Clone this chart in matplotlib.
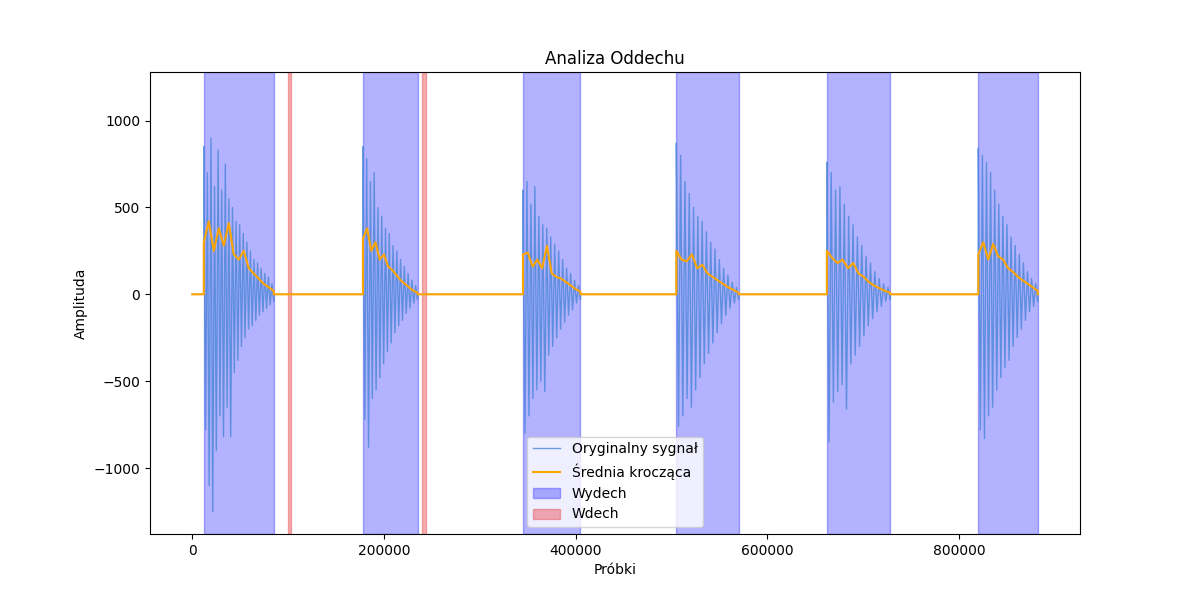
import numpy as np
import matplotlib.pyplot as plt

# zakresy wydechu / wdechu (probki)
wydech_start = [12000, 178000, 345000, 505000, 662000, 820000]
wydech_end = [85000, 235000, 405000, 570000, 728000, 882000]
wdech_start = [100000, 240000]
wdech_end = [103000, 244000]

# amplitudy sygnalu (po kolei w kazdym wydechu)
sig_1 = [850, -780, 700, -1100, 900, -1250, 620, -900, 830, -700, 600, -820, 750, -650, 550, -820, 500, -450, 420, -380,
         400, -300, 350, -250, 300, -200, 250, -180, 200, -150, 180, -120, 150, -100, 120, -80, 100, -60, 60, -40]
sig_2 = [850, -720, 780, -880, 650, -600, 700, -550, 500, -480, 450, -400, 380, -330, 350, -280, 280, -220, 250, -180,
         200, -150, 160, -110, 120, -80, 80, -50, 50, -30]
sig_3 = [600, -800, 650, -700, 520, -600, 620, -550, 450, -500, 400, -560, 380, -350, 330, -300, 290, -250, 250, -200,
         200, -160, 150, -120, 120, -90, 80, -50, 50, -30]
sig_4 = [870, -760, 800, -700, 650, -600, 580, -650, 500, -550, 450, -480, 420, -400, 360, -340, 300, -280, 260, -220,
         200, -170, 150, -120, 110, -80, 70, -50, 40, -30]
sig_5 = [760, -850, 700, -620, 600, -560, 620, -520, 520, -660, 450, -400, 400, -350, 330, -300, 280, -240, 220, -180,
         180, -140, 130, -100, 90, -70, 60, -40, 40, -30]
sig_6 = [840, -780, 800, -830, 760, -700, 700, -650, 600, -550, 520, -480, 450, -420, 400, -380, 330, -300, 280, -250,
         230, -200, 180, -150, 130, -100, 90, -70, 60, -40]
sygnaly = [sig_1, sig_2, sig_3, sig_4, sig_5, sig_6]

# srednia kroczaca
avg_1 = [300, 420, 250, 380, 280, 410, 230, 200, 250, 150, 120, 90, 60, 40, 20]
avg_2 = [320, 380, 250, 300, 200, 230, 160, 140, 110, 80, 60, 40, 20, 10]
avg_3 = [230, 240, 160, 200, 150, 280, 120, 100, 90, 70, 50, 30, 15]
avg_4 = [250, 200, 190, 230, 150, 170, 120, 100, 80, 60, 40, 25, 10]
avg_5 = [250, 210, 180, 200, 150, 180, 120, 100, 70, 50, 35, 20, 10]
avg_6 = [230, 300, 200, 290, 220, 200, 150, 130, 100, 80, 60, 40, 20]
srednie = [avg_1, avg_2, avg_3, avg_4, avg_5, avg_6]


def sklej(bursty):
    x = [0]
    y = [0]
    for s, e, vals in zip(wydech_start, wydech_end, bursty):
        x += [s] + list(np.linspace(s, e, len(vals))) + [e]
        y += [0] + vals + [0]
    return x, y


x_sig, y_sig = sklej(sygnaly)
x_avg, y_avg = sklej(srednie)

fig, ax = plt.subplots(figsize=(12, 6), dpi=100)
ax.plot(x_sig, y_sig, color='#4a86d8', alpha=0.8, linewidth=1, label='Oryginalny sygnał')
ax.plot(x_avg, y_avg, color='orange', linewidth=1.5, label='Średnia krocząca')
for i, (s, e) in enumerate(zip(wydech_start, wydech_end)):
    ax.axvspan(s, e, color='blue', alpha=0.3, label='Wydech' if i == 0 else None)
for i, (s, e) in enumerate(zip(wdech_start, wdech_end)):
    ax.axvspan(s, e, color='#e8383b', alpha=0.4, label='Wdech' if i == 0 else None)
ax.set_ylim(-1380, 1280)
ax.set_title('Analiza Oddechu')
ax.set_xlabel('Próbki')
ax.set_ylabel('Amplituda')
ax.legend(loc='lower center')
plt.savefig('out.png')
